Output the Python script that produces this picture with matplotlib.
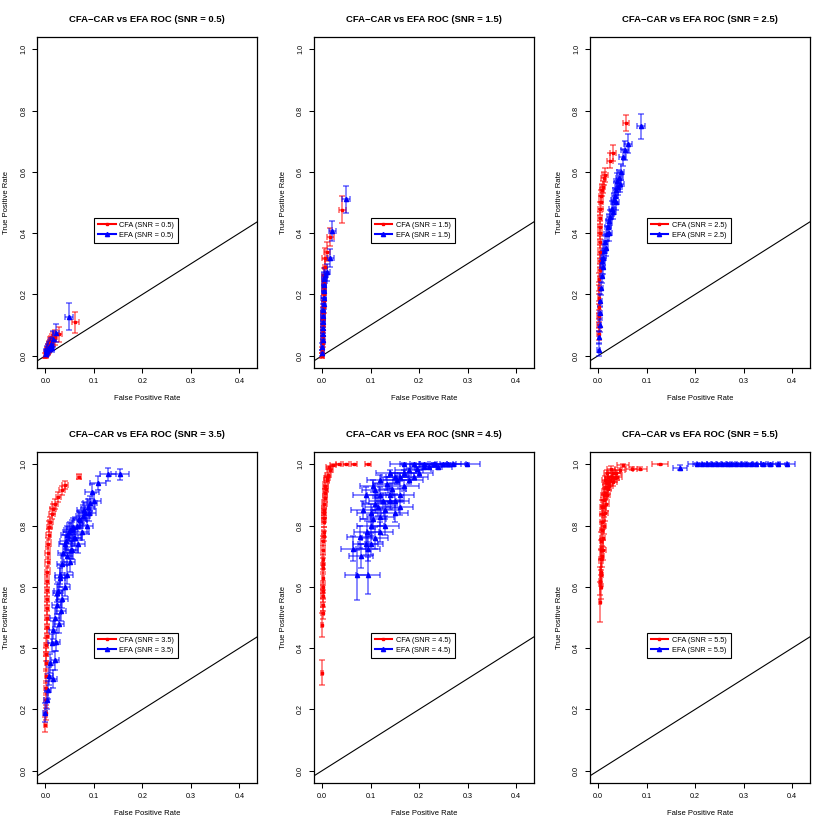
import matplotlib
matplotlib.use("Agg")
import matplotlib.pyplot as plt
from matplotlib.lines import Line2D

plt.rcParams['font.family'] = ['Liberation Sans', 'DejaVu Sans']

# ---------- data ----------
snr_levels = [0.5, 1.5, 2.5, 3.5, 4.5, 5.5]

# SNR = 0.5
cfa_fpr_05 = [0.000, 0.001, 0.002, 0.003, 0.004, 0.005, 0.006, 0.007, 0.008, 0.009, 0.010, 0.012, 0.014, 0.016, 0.019, 0.028, 0.062]
cfa_tpr_05 = [0.000, 0.003, 0.007, 0.011, 0.015, 0.019, 0.023, 0.027, 0.031, 0.035, 0.040, 0.045, 0.050, 0.055, 0.060, 0.070, 0.109]
cfa_fsd_05 = [0.002, 0.002, 0.003, 0.003, 0.003, 0.004, 0.004, 0.004, 0.005, 0.005, 0.005, 0.005, 0.006, 0.006, 0.006, 0.007, 0.007]
cfa_tsd_05 = [0.008, 0.010, 0.012, 0.013, 0.014, 0.015, 0.016, 0.017, 0.018, 0.019, 0.020, 0.021, 0.022, 0.023, 0.024, 0.025, 0.035]
efa_fpr_05 = [0.001, 0.002, 0.003, 0.005, 0.007, 0.009, 0.011, 0.013, 0.016, 0.022, 0.049]
efa_tpr_05 = [0.005, 0.011, 0.017, 0.022, 0.028, 0.033, 0.038, 0.025, 0.055, 0.075, 0.128]
efa_fsd_05 = [0.002, 0.002, 0.003, 0.003, 0.004, 0.004, 0.005, 0.005, 0.005, 0.006, 0.008]
efa_tsd_05 = [0.010, 0.012, 0.014, 0.015, 0.016, 0.018, 0.020, 0.012, 0.025, 0.030, 0.044]

# SNR = 1.5
cfa_fpr_15 = [0.000, 0.000, 0.001, 0.001, 0.001, 0.002, 0.002, 0.002, 0.003, 0.003, 0.003, 0.004, 0.004, 0.005, 0.006, 0.006, 0.010, 0.017, 0.042]
cfa_tpr_15 = [0.00, 0.02, 0.04, 0.06, 0.08, 0.10, 0.12, 0.14, 0.16, 0.18, 0.20, 0.22, 0.24, 0.26, 0.29, 0.318, 0.34, 0.387, 0.477]
cfa_fsd_15 = [0.003, 0.003, 0.003, 0.003, 0.003, 0.004, 0.004, 0.004, 0.004, 0.004, 0.004, 0.005, 0.005, 0.005, 0.005, 0.006, 0.006, 0.007, 0.008]
cfa_tsd_15 = [0.008, 0.010, 0.012, 0.014, 0.015, 0.016, 0.018, 0.019, 0.020, 0.021, 0.022, 0.023, 0.024, 0.025, 0.027, 0.033, 0.030, 0.030, 0.045]
efa_fpr_15 = [0.000, 0.000, 0.001, 0.001, 0.001, 0.002, 0.002, 0.002, 0.003, 0.003, 0.004, 0.004, 0.005, 0.006, 0.010, 0.017, 0.021, 0.0495]
efa_tpr_15 = [0.01, 0.03, 0.05, 0.07, 0.09, 0.11, 0.13, 0.15, 0.17, 0.19, 0.21, 0.23, 0.25, 0.262, 0.272, 0.318, 0.408, 0.51]
efa_fsd_15 = [0.003, 0.003, 0.003, 0.003, 0.004, 0.004, 0.004, 0.004, 0.004, 0.005, 0.005, 0.005, 0.005, 0.006, 0.006, 0.007, 0.007, 0.008]
efa_tsd_15 = [0.010, 0.012, 0.013, 0.014, 0.015, 0.016, 0.017, 0.018, 0.019, 0.020, 0.021, 0.022, 0.023, 0.025, 0.027, 0.030, 0.033, 0.043]

# SNR = 2.5
cfa_fpr_25 = [0.001, 0.001, 0.001, 0.002, 0.002, 0.002, 0.002, 0.003, 0.003, 0.003, 0.003, 0.004, 0.004, 0.004, 0.005, 0.006, 0.006, 0.008, 0.010, 0.012, 0.014, 0.025, 0.030, 0.057]
cfa_tpr_25 = [0.07, 0.10, 0.13, 0.16, 0.19, 0.22, 0.25, 0.28, 0.31, 0.34, 0.37, 0.40, 0.42, 0.45, 0.48, 0.50, 0.52, 0.54, 0.55, 0.579, 0.59, 0.637, 0.661, 0.759]
cfa_fsd_25 = [0.003, 0.003, 0.003, 0.003, 0.003, 0.003, 0.003, 0.004, 0.004, 0.004, 0.004, 0.004, 0.004, 0.004, 0.005, 0.005, 0.005, 0.005, 0.005, 0.005, 0.006, 0.006, 0.006, 0.006]
cfa_tsd_25 = [0.020, 0.020, 0.020, 0.020, 0.020, 0.020, 0.020, 0.020, 0.020, 0.020, 0.020, 0.020, 0.020, 0.020, 0.020, 0.020, 0.020, 0.020, 0.020, 0.022, 0.022, 0.024, 0.025, 0.025]
efa_fpr_25 = [0.001, 0.002, 0.003, 0.004, 0.005, 0.006, 0.008, 0.010, 0.011, 0.013, 0.015, 0.018, 0.020, 0.023, 0.025, 0.028, 0.032, 0.035, 0.038, 0.042, 0.044, 0.047, 0.051, 0.056, 0.0625, 0.0887,
              0.009, 0.016, 0.022, 0.030, 0.036, 0.040, 0.046]
efa_tpr_25 = [0.02, 0.06, 0.10, 0.14, 0.18, 0.22, 0.26, 0.29, 0.32, 0.343, 0.37, 0.398, 0.42, 0.44, 0.452, 0.48, 0.507, 0.52, 0.54, 0.55, 0.58, 0.60, 0.648, 0.67, 0.692, 0.749,
              0.31, 0.35, 0.40, 0.47, 0.50, 0.57, 0.56]
efa_fsd_25 = [0.003, 0.003, 0.003, 0.004, 0.004, 0.004, 0.004, 0.005, 0.005, 0.005, 0.005, 0.005, 0.006, 0.006, 0.006, 0.006, 0.006, 0.006, 0.007, 0.007, 0.007, 0.007, 0.007, 0.008, 0.008, 0.009,
              0.005, 0.005, 0.006, 0.006, 0.007, 0.007, 0.007]
efa_tsd_25 = [0.020, 0.022, 0.022, 0.022, 0.022, 0.022, 0.022, 0.023, 0.023, 0.023, 0.023, 0.024, 0.024, 0.024, 0.025, 0.025, 0.025, 0.026, 0.026, 0.026, 0.027, 0.027, 0.028, 0.030, 0.030, 0.041,
              0.023, 0.023, 0.024, 0.025, 0.025, 0.026, 0.026]

# SNR = 3.5
cfa_fpr_35 = [0.000, 0.001, 0.001, 0.001, 0.002, 0.002, 0.002, 0.002, 0.003, 0.003, 0.003, 0.003, 0.003, 0.004, 0.004, 0.004, 0.005, 0.005, 0.006, 0.007, 0.008, 0.010, 0.013, 0.0165, 0.020, 0.027, 0.034, 0.041, 0.070]
cfa_tpr_35 = [0.15, 0.19, 0.23, 0.27, 0.31, 0.35, 0.38, 0.41, 0.44, 0.47, 0.50, 0.53, 0.56, 0.59, 0.62, 0.65, 0.68, 0.71, 0.74, 0.77, 0.796, 0.81, 0.839, 0.855, 0.87, 0.893, 0.915, 0.932, 0.959]
cfa_fsd_35 = [0.003, 0.003, 0.003, 0.003, 0.003, 0.003, 0.004, 0.004, 0.004, 0.004, 0.004, 0.004, 0.004, 0.004, 0.004, 0.005, 0.005, 0.005, 0.005, 0.005, 0.005, 0.005, 0.006, 0.006, 0.006, 0.006, 0.006, 0.006, 0.004]
cfa_tsd_35 = [0.025, 0.025, 0.024, 0.024, 0.023, 0.023, 0.022, 0.022, 0.022, 0.021, 0.021, 0.021, 0.020, 0.020, 0.020, 0.019, 0.019, 0.019, 0.018, 0.018, 0.018, 0.017, 0.017, 0.016, 0.016, 0.015, 0.015, 0.014, 0.008]
efa_fpr_35 = [0.000, 0.003, 0.006, 0.008, 0.010, 0.013, 0.016, 0.020, 0.023, 0.027, 0.030, 0.034, 0.037, 0.040, 0.044, 0.045, 0.050, 0.055, 0.058, 0.062, 0.065, 0.068, 0.072, 0.075, 0.078, 0.082, 0.085, 0.088, 0.092, 0.096, 0.109, 0.129, 0.154,
              0.015, 0.020, 0.022, 0.028, 0.032, 0.035, 0.040, 0.045, 0.050, 0.052, 0.030, 0.025, 0.060, 0.070, 0.080, 0.090, 0.100, 0.055, 0.048, 0.042]
efa_tpr_35 = [0.19, 0.23, 0.264, 0.31, 0.35, 0.417, 0.46, 0.50, 0.54, 0.586, 0.63, 0.674, 0.71, 0.74, 0.77, 0.70, 0.785, 0.72, 0.796, 0.76, 0.80, 0.74, 0.818, 0.78, 0.83, 0.84, 0.80, 0.86, 0.872, 0.91, 0.939, 0.967, 0.967,
              0.30, 0.36, 0.42, 0.48, 0.52, 0.56, 0.60, 0.64, 0.68, 0.72, 0.64, 0.58, 0.76, 0.82, 0.85, 0.84, 0.88, 0.79, 0.78, 0.75]
efa_fsd_35 = [0.004, 0.005, 0.006, 0.007, 0.008, 0.008, 0.009, 0.010, 0.010, 0.010, 0.011, 0.011, 0.011, 0.012, 0.012, 0.012, 0.012, 0.012, 0.013, 0.013, 0.013, 0.013, 0.013, 0.014, 0.014, 0.014, 0.014, 0.015, 0.015, 0.015, 0.016, 0.017, 0.019,
              0.008, 0.009, 0.009, 0.010, 0.010, 0.011, 0.011, 0.012, 0.012, 0.012, 0.011, 0.010, 0.013, 0.013, 0.014, 0.015, 0.015, 0.013, 0.012, 0.012]
efa_tsd_35 = [0.030, 0.030, 0.030, 0.030, 0.030, 0.030, 0.030, 0.030, 0.030, 0.030, 0.030, 0.030, 0.030, 0.030, 0.028, 0.030, 0.028, 0.030, 0.028, 0.028, 0.028, 0.028, 0.027, 0.027, 0.027, 0.026, 0.026, 0.026, 0.025, 0.024, 0.022, 0.020, 0.019,
              0.030, 0.030, 0.030, 0.030, 0.030, 0.030, 0.030, 0.030, 0.030, 0.029, 0.030, 0.030, 0.028, 0.027, 0.026, 0.026, 0.025, 0.027, 0.028, 0.028]

# SNR = 4.5
cfa_fpr_45 = [0.000, 0.000, 0.001, 0.001, 0.001, 0.001, 0.002, 0.002, 0.002, 0.002, 0.002, 0.003, 0.003, 0.003, 0.004, 0.005, 0.006, 0.008, 0.010, 0.013, 0.0165, 0.023, 0.034, 0.049, 0.066, 0.095,
              0.001, 0.002, 0.003, 0.004, 0.006, 0.007, 0.011, 0.014]
cfa_tpr_45 = [0.32, 0.476, 0.514, 0.54, 0.57, 0.60, 0.63, 0.66, 0.69, 0.72, 0.75, 0.78, 0.81, 0.84, 0.85, 0.87, 0.905, 0.92, 0.948, 0.965, 0.98, 0.997, 1.0, 1.0, 1.0, 1.0,
              0.585, 0.675, 0.765, 0.825, 0.89, 0.93, 0.955, 0.99]
cfa_fsd_45 = [0.002, 0.002, 0.003, 0.003, 0.003, 0.003, 0.003, 0.003, 0.003, 0.004, 0.004, 0.004, 0.004, 0.004, 0.004, 0.005, 0.005, 0.005, 0.005, 0.006, 0.006, 0.006, 0.006, 0.006, 0.006, 0.006,
              0.003, 0.003, 0.004, 0.004, 0.005, 0.005, 0.006, 0.006]
cfa_tsd_45 = [0.040, 0.040, 0.020, 0.020, 0.020, 0.019, 0.019, 0.018, 0.018, 0.017, 0.017, 0.016, 0.016, 0.015, 0.015, 0.014, 0.013, 0.012, 0.010, 0.008, 0.006, 0.004, 0.002, 0.002, 0.002, 0.002,
              0.020, 0.018, 0.016, 0.015, 0.013, 0.011, 0.008, 0.004]
efa_fpr_45 = [0.0715, 0.095, 0.0646, 0.095, 0.078, 0.085, 0.092, 0.100, 0.105, 0.109, 0.115, 0.120, 0.125, 0.133, 0.140, 0.145, 0.150, 0.155, 0.161, 0.170, 0.180, 0.196, 0.210, 0.230, 0.250, 0.270, 0.298,
              0.080, 0.090, 0.100, 0.110, 0.120, 0.100, 0.110, 0.120, 0.130, 0.140, 0.130, 0.150, 0.160, 0.170, 0.180, 0.190, 0.200, 0.150, 0.160, 0.220, 0.240, 0.260, 0.090, 0.105, 0.120, 0.140, 0.170, 0.190, 0.210, 0.230]
efa_tpr_45 = [0.638, 0.638, 0.725, 0.725, 0.763, 0.85, 0.78, 0.80, 0.82, 0.915, 0.86, 0.828, 0.88, 0.937, 0.90, 0.92, 0.88, 0.95, 0.958, 0.97, 0.98, 0.986, 0.99, 1.0, 1.0, 1.0, 1.0,
              0.70, 0.74, 0.74, 0.76, 0.78, 0.84, 0.87, 0.90, 0.85, 0.88, 0.80, 0.84, 0.90, 0.93, 0.95, 0.96, 0.97, 0.96, 0.86, 0.99, 0.99, 1.0, 0.90, 0.93, 0.95, 0.97, 1.0, 1.0, 1.0, 1.0]
efa_fsd_45 = [0.024, 0.024, 0.025, 0.025, 0.026, 0.026, 0.026, 0.027, 0.027, 0.027, 0.027, 0.028, 0.028, 0.028, 0.028, 0.028, 0.029, 0.029, 0.029, 0.029, 0.029, 0.028, 0.028, 0.028, 0.027, 0.027, 0.027,
              0.025, 0.026, 0.026, 0.027, 0.027, 0.027, 0.027, 0.028, 0.028, 0.028, 0.028, 0.028, 0.029, 0.029, 0.029, 0.029, 0.028, 0.028, 0.028, 0.028, 0.027, 0.027, 0.026, 0.027, 0.027, 0.028, 0.029, 0.029, 0.028, 0.028]
efa_tsd_45 = [0.081, 0.060, 0.040, 0.040, 0.035, 0.030, 0.035, 0.035, 0.030, 0.025, 0.030, 0.030, 0.025, 0.020, 0.022, 0.020, 0.022, 0.015, 0.012, 0.010, 0.008, 0.006, 0.005, 0.003, 0.003, 0.003, 0.003,
              0.040, 0.035, 0.035, 0.035, 0.033, 0.030, 0.028, 0.025, 0.028, 0.025, 0.030, 0.028, 0.022, 0.018, 0.015, 0.012, 0.010, 0.012, 0.025, 0.006, 0.006, 0.003, 0.025, 0.020, 0.015, 0.012, 0.003, 0.003, 0.003, 0.003]

# SNR = 5.5
cfa_fpr_55 = [0.004, 0.005, 0.006, 0.006, 0.007, 0.007, 0.008, 0.009, 0.010, 0.011, 0.012, 0.0144, 0.016, 0.018, 0.021, 0.025, 0.031, 0.038, 0.045, 0.052, 0.069, 0.087, 0.128,
              0.008, 0.010, 0.012, 0.014, 0.016, 0.018, 0.020, 0.022, 0.024, 0.028, 0.030, 0.035, 0.040, 0.011, 0.013, 0.015, 0.019, 0.009, 0.026, 0.006, 0.007]
cfa_tpr_55 = [0.551, 0.62, 0.65, 0.69, 0.72, 0.75, 0.785, 0.81, 0.839, 0.86, 0.883, 0.905, 0.926, 0.94, 0.959, 0.95, 0.942, 0.97, 0.98, 0.996, 0.986, 0.986, 1.0,
              0.70, 0.76, 0.80, 0.84, 0.87, 0.90, 0.92, 0.93, 0.945, 0.96, 0.97, 0.955, 0.96, 0.72, 0.90, 0.95, 0.97, 0.86, 0.985, 0.60, 0.64]
cfa_fsd_55 = [0.003, 0.003, 0.003, 0.004, 0.004, 0.004, 0.004, 0.005, 0.005, 0.005, 0.005, 0.006, 0.006, 0.007, 0.007, 0.008, 0.008, 0.009, 0.010, 0.012, 0.012, 0.014, 0.017,
              0.004, 0.005, 0.005, 0.006, 0.006, 0.007, 0.007, 0.008, 0.008, 0.008, 0.009, 0.009, 0.010, 0.005, 0.006, 0.006, 0.007, 0.005, 0.008, 0.003, 0.004]
cfa_tsd_55 = [0.065, 0.045, 0.040, 0.035, 0.032, 0.030, 0.028, 0.026, 0.024, 0.022, 0.020, 0.018, 0.016, 0.015, 0.012, 0.013, 0.014, 0.010, 0.008, 0.004, 0.006, 0.006, 0.002,
              0.034, 0.030, 0.027, 0.024, 0.021, 0.018, 0.016, 0.015, 0.014, 0.012, 0.010, 0.013, 0.012, 0.032, 0.018, 0.013, 0.010, 0.022, 0.008, 0.040, 0.038]
efa_fpr_55 = [0.169, 0.205, 0.215, 0.225, 0.235, 0.245, 0.255, 0.265, 0.275, 0.285, 0.295, 0.305, 0.315, 0.325, 0.340, 0.355, 0.370, 0.389]
efa_tpr_55 = [0.988, 1.0, 1.0, 1.0, 1.0, 1.0, 1.0, 1.0, 1.0, 1.0, 1.0, 1.0, 1.0, 1.0, 1.0, 1.0, 1.0, 1.0]
efa_fsd_55 = [0.014, 0.020, 0.020, 0.021, 0.021, 0.021, 0.022, 0.022, 0.022, 0.022, 0.022, 0.022, 0.021, 0.021, 0.020, 0.020, 0.019, 0.018]
efa_tsd_55 = [0.008, 0.003, 0.003, 0.003, 0.003, 0.003, 0.003, 0.003, 0.003, 0.003, 0.003, 0.003, 0.003, 0.003, 0.003, 0.003, 0.003, 0.003]

cfa_series = [
    (cfa_fpr_05, cfa_tpr_05, cfa_fsd_05, cfa_tsd_05),
    (cfa_fpr_15, cfa_tpr_15, cfa_fsd_15, cfa_tsd_15),
    (cfa_fpr_25, cfa_tpr_25, cfa_fsd_25, cfa_tsd_25),
    (cfa_fpr_35, cfa_tpr_35, cfa_fsd_35, cfa_tsd_35),
    (cfa_fpr_45, cfa_tpr_45, cfa_fsd_45, cfa_tsd_45),
    (cfa_fpr_55, cfa_tpr_55, cfa_fsd_55, cfa_tsd_55),
]
efa_series = [
    (efa_fpr_05, efa_tpr_05, efa_fsd_05, efa_tsd_05),
    (efa_fpr_15, efa_tpr_15, efa_fsd_15, efa_tsd_15),
    (efa_fpr_25, efa_tpr_25, efa_fsd_25, efa_tsd_25),
    (efa_fpr_35, efa_tpr_35, efa_fsd_35, efa_tsd_35),
    (efa_fpr_45, efa_tpr_45, efa_fsd_45, efa_tsd_45),
    (efa_fpr_55, efa_tpr_55, efa_fsd_55, efa_tsd_55),
]

x_ticks = [0.0, 0.1, 0.2, 0.3, 0.4]
y_ticks = [0.0, 0.2, 0.4, 0.6, 0.8, 1.0]

# ---------- layout (pixel boxes like the R mfrow = c(2, 3) output) ----------
W = 830.0
col_left = [37.2, 313.9, 589.9]
row_top = [37.0, 452.0]
box_w, box_h = 220.0, 331.0

fig = plt.figure(figsize=(8.3, 8.3), dpi=100)


def draw_panel(ax, snr, cfa, efa):
    fx, fy, fsd, tsd = cfa
    ax.errorbar(fx, fy, xerr=fsd, yerr=tsd, fmt='none', ecolor='red',
                elinewidth=1.1, capsize=2.4, capthick=1.1, alpha=0.6, zorder=2)
    ax.plot(fx, fy, 's', color='red', ms=1.8, zorder=3)
    ex, ey, esd_x, esd_y = efa
    ax.errorbar(ex, ey, xerr=esd_x, yerr=esd_y, fmt='none', ecolor='blue',
                elinewidth=1.1, capsize=2.4, capthick=1.1, alpha=0.6, zorder=2)
    ax.plot(ex, ey, '^', color='blue', ms=3.0, zorder=3)

    ax.axline((0, 0), slope=1, color='black', lw=0.8, zorder=1)

    ax.set_xlim(-0.0168, 0.4368)
    ax.set_ylim(-0.04, 1.04)
    ax.set_xticks(x_ticks)
    ax.set_xticklabels([f"{t:.1f}" for t in x_ticks])
    ax.set_yticks(y_ticks)
    ax.set_yticklabels([f"{t:.1f}" for t in y_ticks], rotation=90, va='center')
    ax.tick_params(direction='out', length=3.6, width=0.75, labelsize=5.2, pad=3.5)
    for sp in ax.spines.values():
        sp.set_linewidth(0.9)
    ax.set_xlabel('False Positive Rate', fontsize=5.5, labelpad=7.5)
    ax.set_ylabel('True Positive Rate', fontsize=5.5, labelpad=7.5)
    ax.set_title(f'CFA\u2212CAR vs EFA ROC (SNR = {snr})', fontsize=6.8,
                 fontweight='bold', pad=11)

    handles = [
        Line2D([], [], color='red', lw=1.5, marker='s', ms=1.8),
        Line2D([], [], color='blue', lw=1.5, marker='^', ms=3.0),
    ]
    leg = ax.legend(handles, [f'CFA (SNR = {snr})', f'EFA (SNR = {snr})'],
                    loc='upper left', bbox_to_anchor=(0.1, 0.45),
                    bbox_transform=ax.transData, fontsize=5.3,
                    frameon=True, fancybox=False, edgecolor='black',
                    framealpha=1, handlelength=2.4, handletextpad=0.5,
                    borderpad=0.55, labelspacing=0.35, borderaxespad=0)
    leg.get_frame().set_linewidth(0.8)


for i, snr in enumerate(snr_levels):
    r, c = divmod(i, 3)
    left = col_left[c] / W
    bottom = 1 - (row_top[r] + box_h) / W
    ax = fig.add_axes([left, bottom, box_w / W, box_h / W])
    draw_panel(ax, snr, cfa_series[i], efa_series[i])

fig.savefig('out.png', dpi=100)
